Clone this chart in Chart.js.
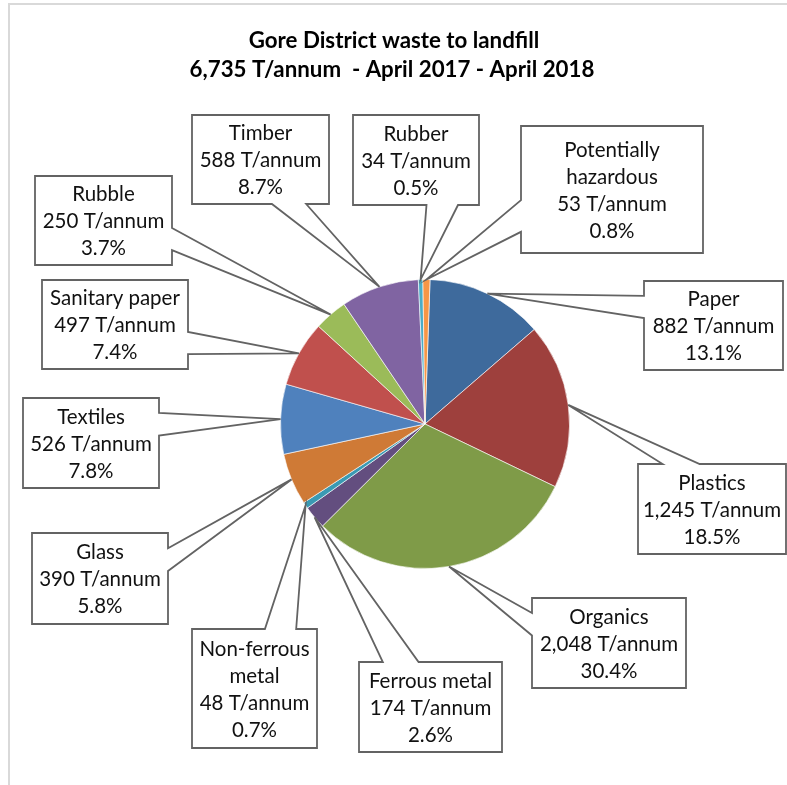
<!DOCTYPE html>
<html>
<head>
<meta charset="utf-8">
<title>Gore District waste to landfill</title>
<script src="https://cdn.jsdelivr.net/npm/chart.js@4.4.1/dist/chart.umd.min.js"></script>
<style>
  html, body { margin: 0; padding: 0; background: #fff; }
  canvas { display: block; }
</style>
</head>
<body>
<canvas id="wasteChart" width="787" height="785"></canvas>
<script>
const categories = [
  "Paper", "Plastics", "Organics", "Ferrous metal", ["Non-ferrous", "metal"], "Glass",
  "Textiles", "Sanitary paper", "Rubble", "Timber", "Rubber", ["Potentially", "hazardous"]
];
const tonnes = [882, 1245, 2048, 174, 48, 390, 526, 497, 250, 588, 34, 53];
const sliceColors = [
  "#3E6A9C", "#9E403D", "#7F9B48", "#634E7F", "#3A9AB3", "#CF7A36",
  "#4F81BD", "#C0504D", "#9BBB59", "#8064A2", "#4BACC6", "#F79646"
];
const unit = "T/annum";
const period = "April 2017 - April 2018";

// label boxes (left, top, width, height), one per slice
const calloutBoxes = [
  { x: 644, y: 281, w: 139, h: 89 },
  { x: 638, y: 464, w: 148, h: 90 },
  { x: 532, y: 598, w: 154, h: 90 },
  { x: 359, y: 662, w: 143, h: 90 },
  { x: 192, y: 629, w: 125, h: 119 },
  { x: 32, y: 533, w: 136, h: 91 },
  { x: 23, y: 398, w: 136, h: 90 },
  { x: 42, y: 280, w: 146, h: 89 },
  { x: 35, y: 176, w: 137, h: 89 },
  { x: 192, y: 115, w: 137, h: 89 },
  { x: 353, y: 115, w: 126, h: 90 },
  { x: 521, y: 126, w: 182, h: 127 }
];

const total = tonnes.reduce((a, b) => a + b, 0);
const fmt = (n) => n.toLocaleString("en-US");

// rectangle with a wedge pointing at (tx, ty), same rules as an office callout shape
function calloutPath(ctx, b, tx, ty) {
  const l = b.x, t = b.y, r = b.x + b.w, bt = b.y + b.h;
  const dx = tx - (l + b.w / 2);
  const dy = ty - (t + b.h / 2);
  const vertical = Math.abs(dy) > Math.abs(dx * b.h / b.w);
  const x1 = l + b.w * (dx > 0 ? 7 : 2) / 12;
  const x2 = l + b.w * (dx > 0 ? 10 : 5) / 12;
  const y1 = t + b.h * (dy > 0 ? 7 : 2) / 12;
  const y2 = t + b.h * (dy > 0 ? 10 : 5) / 12;

  ctx.beginPath();
  ctx.moveTo(l, t);
  if (vertical && dy < 0) {
    ctx.lineTo(x1, t); ctx.lineTo(tx, ty); ctx.lineTo(x2, t);
  }
  ctx.lineTo(r, t);
  if (!vertical && dx > 0) {
    ctx.lineTo(r, y1); ctx.lineTo(tx, ty); ctx.lineTo(r, y2);
  }
  ctx.lineTo(r, bt);
  if (vertical && dy > 0) {
    ctx.lineTo(x2, bt); ctx.lineTo(tx, ty); ctx.lineTo(x1, bt);
  }
  ctx.lineTo(l, bt);
  if (!vertical && dx < 0) {
    ctx.lineTo(l, y2); ctx.lineTo(tx, ty); ctx.lineTo(l, y1);
  }
  ctx.closePath();
}

const framePlugin = {
  id: "frame",
  beforeDraw(chart) {
    const ctx = chart.ctx;
    ctx.save();
    ctx.strokeStyle = "#D9D9D9";
    ctx.lineWidth = 2;
    ctx.strokeRect(9, 4, 800, 800);
    ctx.restore();
  },
  afterDraw(chart) {
    const ctx = chart.ctx;
    ctx.save();
    ctx.fillStyle = "#000";
    ctx.font = "bold 22.3px Lato";
    ctx.textAlign = "center";
    ctx.textBaseline = "alphabetic";
    ctx.fillText("Gore District waste to landfill", 394, 48);
    ctx.fillText(fmt(total) + " " + unit + "  - " + period, 392, 77);
    ctx.restore();
  }
};

const calloutPlugin = {
  id: "callouts",
  afterDatasetsDraw(chart) {
    const ctx = chart.ctx;
    const meta = chart.getDatasetMeta(0);
    const lineHeight = 27;
    ctx.save();
    meta.data.forEach((arc, i) => {
      const p = arc.getProps(["x", "y", "startAngle", "endAngle", "outerRadius"], true);
      const mid = (p.startAngle + p.endAngle) / 2;
      const tx = p.x + Math.cos(mid) * p.outerRadius;
      const ty = p.y + Math.sin(mid) * p.outerRadius;
      const box = calloutBoxes[i];

      calloutPath(ctx, box, tx, ty);
      ctx.fillStyle = "#fff";
      ctx.fill();
      ctx.strokeStyle = "#636363";
      ctx.lineWidth = 1.8;
      ctx.lineJoin = "miter";
      ctx.stroke();

      const name = [].concat(categories[i]);
      const pct = (tonnes[i] / total * 100).toFixed(1) + "%";
      const lines = name.concat([fmt(tonnes[i]) + " " + unit, pct]);
      ctx.fillStyle = "#111";
      ctx.font = "20.5px Lato";
      ctx.textAlign = "center";
      ctx.textBaseline = "middle";
      const cx = box.x + box.w / 2;
      const top = box.y + box.h / 2 - (lines.length - 1) * lineHeight / 2;
      lines.forEach((s, k) => ctx.fillText(s, cx, top + k * lineHeight + 1));
    });
    ctx.restore();
  }
};

new Chart(document.getElementById("wasteChart"), {
  type: "pie",
  data: {
    labels: categories,
    datasets: [{
      data: tonnes,
      backgroundColor: sliceColors,
      borderColor: "rgba(255,255,255,0.6)",
      borderWidth: 1
    }]
  },
  options: {
    responsive: false,
    devicePixelRatio: 1,
    animation: false,
    rotation: 2,
    layout: { padding: { left: 280, right: 217, top: 279, bottom: 216 } },
    plugins: {
      legend: { display: false },
      title: { display: false },
      tooltip: { enabled: false }
    }
  },
  plugins: [framePlugin, calloutPlugin]
});
</script>
</body>
</html>
